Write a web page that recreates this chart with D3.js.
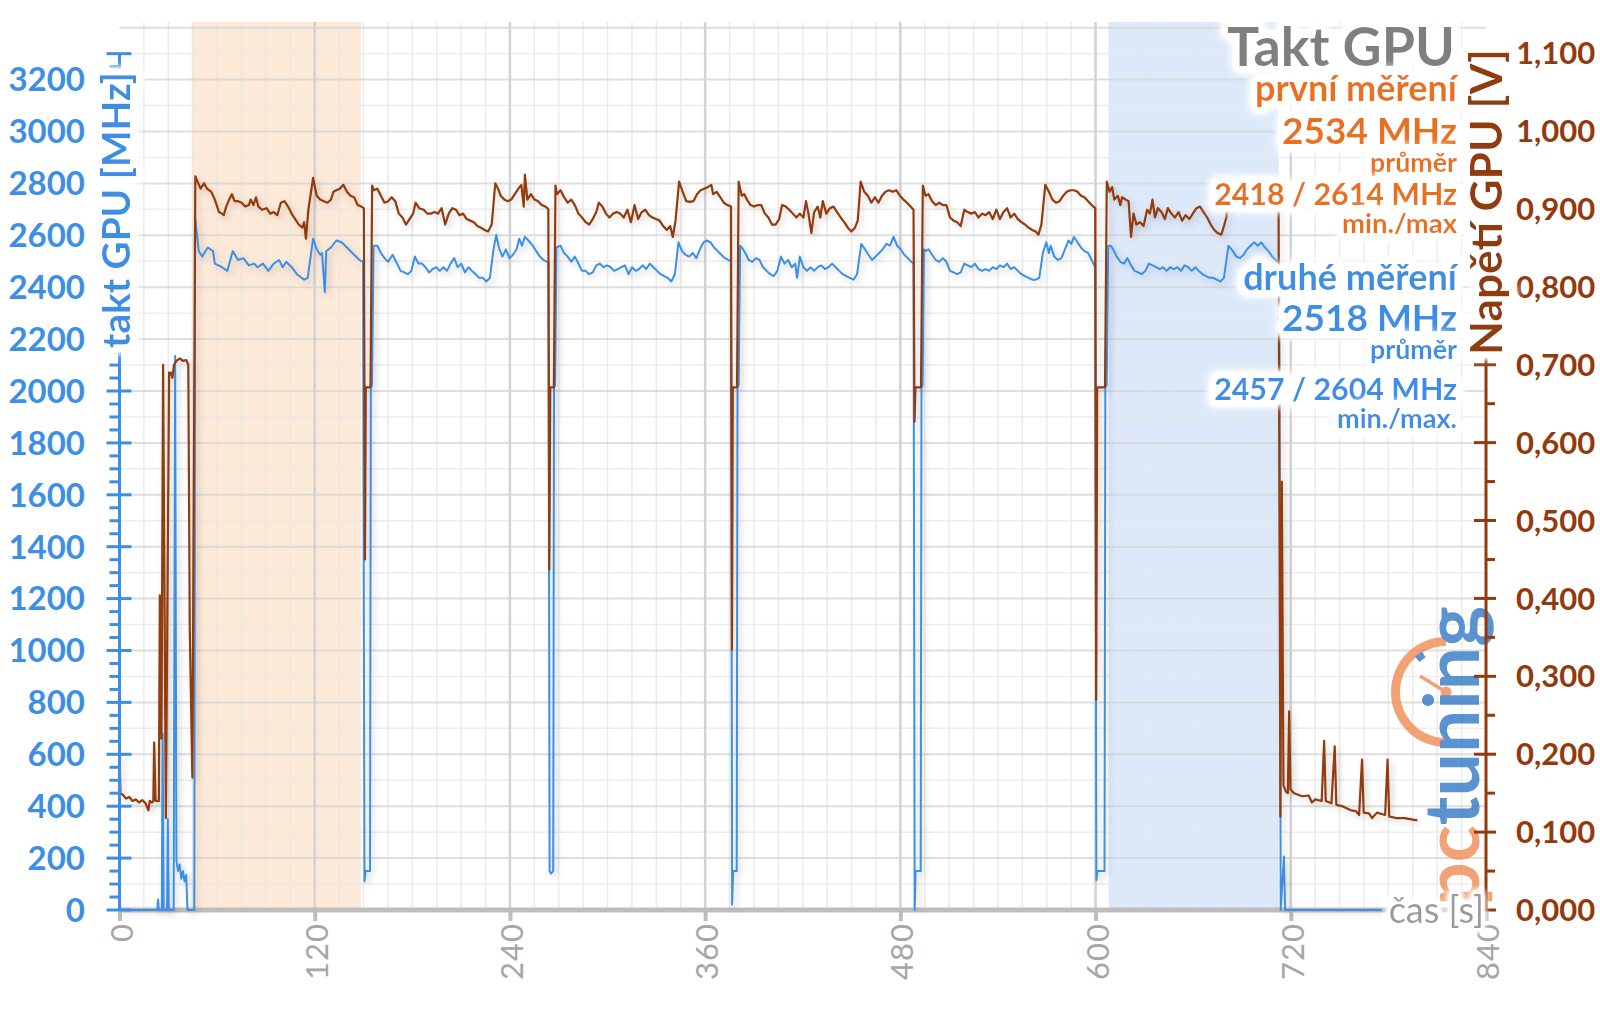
<!DOCTYPE html>
<html><head><meta charset="utf-8">
<script src="https://cdn.jsdelivr.net/npm/d3@7"></script>
<style>
body{margin:0;background:#fff;}
svg{display:block;}
text{font-family:Lato,"Open Sans",sans-serif;}
</style>
</head><body>
<svg id="c" width="1600" height="1009"></svg>
<script>
// ---------- DATA ----------
// GPU clock, second measurement (MHz) : [time s, MHz]
const gpuClock = [
[0,0],[23.2,0],[23.7,40],[24.2,0],[26,0],[26.5,680],[27.2,0],[29.2,0],[29.7,350],[30.3,0],[33.3,0],[34.2,2135],[35,190],[36,150],[37,175],[38,120],[39,150],[40,110],[41,135],[41.8,0],[46,0],[46.5,2670],
[48.7,2539],[50.9,2518],[54.2,2553],[57.5,2539],[58.6,2491],[60.8,2484],[63,2477],[66.3,2463],[69.6,2539],[72.9,2505],[76.2,2512],[79.5,2484],[82.7,2491],[84.9,2477],[88.2,2491],[91.5,2463],[94.8,2491],[98.1,2505],[100.3,2477],[102.5,2498],[105.8,2477],[109.1,2450],[113.5,2429],[115.7,2436],[119,2587],[121.2,2546],[123.4,2525],[124.5,2532],[126.2,2381],[127.1,2539],[130,2553],[133.3,2580],[136.5,2573],[139.8,2553],[144.2,2525],[147.5,2505],[149.7,2498],
[150.6,110],[151.3,150],[154,150],[154.5,2015],[155.2,2020],[156.2,2560],
[158.5,2560],[160.7,2532],[162.9,2512],[165.1,2498],[167.9,2525],[170.6,2491],[172.8,2463],[175,2457],[177.2,2450],[179.4,2463],[181.6,2518],[183.8,2491],[186,2491],[188.1,2477],[190.3,2457],[192.5,2470],[194.7,2477],[196.9,2463],[199.1,2477],[201.3,2463],[203.5,2491],[205.7,2512],[207.9,2477],[210.1,2491],[212.3,2457],[214.5,2477],[216.7,2463],[218.9,2450],[221.1,2436],[223.3,2436],[225.5,2422],[227.7,2436],[229.9,2546],[231.6,2601],[233.2,2553],[235.4,2518],[237.5,2546],[239.7,2512],[241.9,2525],[244.1,2546],[245.7,2587],[247.4,2560],[249.2,2594],[251.4,2580],[254,2560],[256.2,2539],[258.4,2518],[260.6,2505],[263.7,2495],
[264.4,150],[265.2,140],[266.6,150],[267.1,2015],[267.8,2020],[268.6,2553],
[271.1,2560],[273.3,2532],[275.5,2518],[277.7,2498],[279.9,2518],[282.1,2491],[284.3,2463],[286.5,2463],[288.7,2450],[290.9,2457],[293.1,2484],[295.3,2491],[297.5,2477],[299.7,2484],[301.9,2477],[304.1,2463],[306.3,2470],[308.5,2477],[310.7,2484],[312.9,2450],[315.1,2477],[317.3,2463],[319.4,2470],[321.6,2484],[323.8,2470],[326,2491],[328.2,2477],[330.4,2463],[332.6,2450],[334.8,2443],[337,2436],[339.2,2422],[341.4,2450],[343.6,2573],[345.8,2539],[348,2525],[350.2,2518],[352.4,2532],[354.6,2512],[356.8,2546],[359,2573],[361.2,2580],[363.3,2573],[365.5,2553],[367.7,2539],[369.9,2525],[372.1,2512],[374.3,2505],[375.9,2498],
[376.6,20],[377.2,150],[379.4,150],[379.9,2015],[380.6,2020],[381.5,2560],
[382.5,2553],[384.7,2532],[386.8,2505],[389,2498],[391.2,2512],[393.4,2505],[395.6,2477],[397.8,2463],[400,2450],[402.2,2443],[404.4,2463],[406.6,2518],[408.8,2491],[411,2505],[413.2,2477],[415.4,2491],[416.5,2436],[418.2,2518],[420.4,2477],[422.6,2463],[424.8,2477],[427,2463],[429.2,2477],[431.4,2484],[433.6,2470],[435.8,2477],[438,2491],[440.2,2477],[442.4,2463],[444.6,2450],[446.8,2443],[449,2436],[451.2,2429],[453.4,2450],[456,2567],[458.2,2546],[460.4,2525],[462.6,2505],[464.8,2518],[467,2532],[469.2,2546],[471.4,2567],[473.6,2560],[475.8,2594],[478,2560],[480.2,2546],[482.4,2525],[484.6,2512],[486.7,2498],[488.1,2491],
[488.8,0],[489.4,150],[492.5,150],[493,2015],[493.7,2020],[494.5,2546],
[495.5,2539],[497.3,2546],[499.5,2525],[501.7,2505],[503.9,2498],[506.1,2512],[508.3,2498],[510.5,2463],[512.7,2457],[514.9,2450],[517.1,2457],[519.3,2491],[521.4,2484],[523.6,2477],[525.8,2491],[528,2470],[530.2,2463],[532.4,2470],[534.6,2463],[536.8,2477],[539,2470],[541.2,2484],[543.4,2477],[545.6,2491],[547.8,2470],[550,2477],[552.2,2463],[554.4,2450],[556.6,2443],[558.8,2436],[561,2429],[563.2,2429],[565.4,2436],[567.6,2532],[569.7,2573],[571.3,2532],[572.4,2560],[574.6,2518],[576.8,2505],[579,2512],[581.2,2546],[583.4,2580],[585.1,2567],[586.7,2594],[588.9,2573],[591,2553],[593.2,2539],[595.4,2532],[597.6,2505],[599.8,2477],
[600.5,115],[601.2,150],[605.5,150],[606,2015],[606.8,2020],[607.8,2560],
[609.3,2560],[610.8,2546],[613,2518],[615.2,2498],[617.4,2491],[619.6,2512],[621.8,2484],[624,2463],[626.2,2457],[628.4,2450],[630.6,2463],[632.8,2491],[635,2484],[637.2,2477],[639.4,2470],[641.5,2477],[643.7,2463],[645.9,2477],[648.1,2470],[650.3,2477],[652.5,2463],[654.7,2484],[656.9,2477],[659.1,2463],[661.3,2477],[663.5,2463],[665.7,2450],[667.9,2443],[670.1,2436],[672.3,2436],[674.5,2429],[676.7,2422],[678.9,2436],[681.7,2560],[684.4,2539],[686.6,2518],[688.8,2512],[691,2525],[693.1,2546],[695.3,2560],[697.5,2573],[699.7,2560],[701.9,2573],[704.1,2553],[706.3,2539],[708.5,2518],[710.7,2505],[712.9,2491],
[713.8,0],[715.8,206],[716.5,0],[776,0]
];

// GPU voltage, first measurement (V) : [time s, V]
const gpuVoltage = [
[0,0.203],[0.6,0.15],[2,0.148],[4,0.143],[6,0.145],[8,0.14],[10,0.142],[12,0.138],[14,0.141],[16,0.137],[17.8,0.128],[18.6,0.14],[20,0.138],[20.8,0.14],[21.3,0.215],[22.2,0.14],[24.2,0.14],[24.8,0.404],[25.8,0.22],[26.8,0.70],[28.5,0.118],[30.5,0.69],[31.5,0.69],[32.5,0.683],[33.5,0.70],[35,0.705],[37,0.708],[39,0.705],[41,0.706],[42.3,0.70],[43.2,0.36],[44.8,0.17],[46.6,0.942],
[49.8,0.926],[52,0.933],[53.8,0.926],[56.4,0.922],[58.6,0.912],[61.2,0.896],[63,0.894],[64.1,0.892],[65.6,0.903],[67.4,0.912],[69.1,0.919],[70.7,0.91],[72.9,0.91],[75.1,0.908],[77.3,0.903],[79.5,0.905],[80.6,0.912],[82.3,0.905],[83.9,0.915],[85.4,0.903],[87.6,0.899],[90.4,0.901],[92.6,0.894],[94.8,0.896],[97,0.892],[99.2,0.908],[101.4,0.91],[103.6,0.903],[105.8,0.894],[108,0.887],[110.2,0.88],[112.4,0.876],[113.5,0.883],[114.6,0.862],[116.1,0.899],[119,0.94],[121.2,0.917],[123.4,0.912],[125.6,0.91],[127.8,0.908],[130,0.912],[131.5,0.922],[133.3,0.924],[135.4,0.926],[137.6,0.931],[139.8,0.922],[142,0.917],[144.2,0.915],[146.4,0.905],[148.6,0.903],[150.2,0.901],
[150.9,0.45],[151.4,0.671],[154.3,0.671],[155.3,0.93],
[156.3,0.924],[158.5,0.926],[160.7,0.917],[162.9,0.908],[165.1,0.91],[167.3,0.915],[169.5,0.91],[171.7,0.894],[173.9,0.889],[176.1,0.88],[178.3,0.887],[180.5,0.894],[182,0.908],[184.2,0.901],[187,0.899],[189.2,0.894],[191.4,0.894],[193.6,0.896],[195.8,0.894],[198,0.901],[200.2,0.88],[202.4,0.894],[204.6,0.901],[206.8,0.899],[209,0.892],[211.2,0.894],[213.4,0.887],[215.6,0.885],[217.8,0.883],[220,0.878],[222.2,0.876],[224.4,0.873],[226.6,0.871],[228.8,0.88],[231,0.933],[232.7,0.926],[234.3,0.917],[236.5,0.912],[238.6,0.91],[240.8,0.912],[243,0.919],[245.2,0.926],[247,0.931],[248.5,0.903],[249.2,0.944],[250.7,0.912],[252.9,0.919],[255.1,0.912],[257.3,0.91],[259.5,0.905],[261.7,0.903],[263.6,0.9],
[264.2,0.437],[264.8,0.671],[267,0.671],[268,0.93],
[268.9,0.919],[271.1,0.924],[273.3,0.915],[275.5,0.908],[277.7,0.912],[279.9,0.905],[282.1,0.894],[284.3,0.889],[286.5,0.883],[288.7,0.88],[290.9,0.887],[293.1,0.896],[294.6,0.908],[296.8,0.903],[299,0.894],[301.2,0.889],[303.4,0.894],[305.6,0.896],[307.8,0.894],[310,0.889],[312.2,0.899],[314.4,0.883],[316.6,0.905],[318.8,0.887],[321,0.896],[323.2,0.899],[325.4,0.892],[327.6,0.889],[329.8,0.887],[332,0.885],[334.2,0.878],[336.4,0.873],[338.5,0.878],[340.1,0.864],[341.8,0.885],[344,0.935],[346.2,0.922],[348.4,0.91],[350.6,0.909],[352.8,0.91],[355,0.919],[357.2,0.924],[359.4,0.926],[361.6,0.928],[363.8,0.931],[364.9,0.919],[367.1,0.922],[369.3,0.915],[371.5,0.908],[373.7,0.905],[375.9,0.903],
[376.5,0.334],[377,0.671],[379.6,0.671],[380.6,0.935],
[382.5,0.917],[384,0.919],[385.7,0.912],[387.9,0.905],[390.1,0.903],[392.3,0.905],[394.5,0.905],[396.7,0.894],[398.9,0.889],[401.1,0.88],[403.3,0.88],[405.5,0.887],[407.3,0.905],[409.5,0.903],[411.7,0.899],[413.9,0.894],[416.1,0.889],[418.2,0.894],[420.4,0.889],[422,0.91],[423.5,0.894],[425.3,0.869],[427,0.896],[429.2,0.903],[430.8,0.889],[432.3,0.91],[434.5,0.894],[436.7,0.901],[438.9,0.903],[441.1,0.896],[443.3,0.889],[445.5,0.883],[447.7,0.876],[449.9,0.871],[452.1,0.876],[453.8,0.885],[455.6,0.935],[457.8,0.922],[460,0.917],[462.2,0.908],[464.4,0.915],[466.5,0.908],[468.7,0.917],[470.9,0.922],[473.1,0.924],[475.3,0.922],[477.5,0.924],[479.7,0.917],[481.9,0.912],[484.1,0.908],[486.3,0.903],[488.1,0.899],
[488.7,0.627],[489.3,0.671],[492.7,0.671],[493.8,0.93],
[495.5,0.917],[497.3,0.919],[499.5,0.91],[501.7,0.905],[503.9,0.908],[506.1,0.905],[508.3,0.905],[510.5,0.889],[512.7,0.885],[514.9,0.883],[517.1,0.878],[519.3,0.899],[521.4,0.896],[523.6,0.894],[525.8,0.896],[528,0.889],[530.2,0.894],[532.4,0.892],[534.6,0.896],[536.8,0.887],[539,0.899],[541.2,0.887],[543.4,0.896],[545.6,0.901],[547.8,0.889],[550,0.894],[552.2,0.887],[554.4,0.883],[556.6,0.88],[558.8,0.876],[561,0.873],[563.2,0.871],[564.9,0.867],[566.7,0.88],[569.1,0.931],[571.3,0.922],[573.5,0.912],[575.7,0.908],[577.9,0.91],[580.1,0.917],[582.3,0.922],[584.5,0.924],[586.7,0.924],[588.9,0.922],[591,0.917],[593.2,0.915],[595.4,0.91],[597.6,0.905],[599.8,0.901],
[600.4,0.27],[601,0.671],[605.8,0.671],[606.9,0.935],
[608.6,0.922],[610.2,0.928],[611.5,0.912],[613.7,0.917],[615.2,0.905],[616.3,0.915],[618.5,0.912],[620.3,0.91],[621.8,0.864],[623.3,0.894],[625.1,0.88],[627.3,0.883],[629.5,0.878],[631.7,0.899],[633.4,0.894],[635,0.912],[636.5,0.889],[638.3,0.901],[640.5,0.896],[642.6,0.887],[644.4,0.901],[646.6,0.894],[648.8,0.889],[651,0.896],[653.2,0.885],[655.4,0.892],[657.6,0.887],[659.8,0.894],[662,0.901],[664.2,0.903],[666.4,0.896],[668.6,0.889],[670.8,0.88],[673,0.873],[675.1,0.869],[677.3,0.867],[678.9,0.878],[680.4,0.889],[682,0.935],[684,0.922],[688,0.91],[692,0.915],[696,0.924],[700,0.928],[704,0.922],[708,0.912],[712.5,0.903],
[713.6,0.12],[714.5,0.55],[715.5,0.16],[717,0.152],[718.2,0.15],[719,0.255],[719.8,0.155],[722,0.15],[727,0.146],[731,0.147],[733,0.138],[735,0.142],[739,0.14],[740.5,0.217],[741.5,0.14],[745,0.137],[747,0.21],[748,0.135],[752,0.133],[757,0.128],[760,0.127],[762,0.122],[763.8,0.193],[764.8,0.125],[768,0.124],[770,0.118],[773,0.125],[778,0.122],[779.5,0.193],[780.5,0.12],[785,0.118],[790,0.118],[795,0.116],[797.8,0.115]
];

const highlightFirst = [44.4, 148.3];   // s
const highlightSecond = [608, 712.5];   // s
const timeTicks = [0,120,240,360,480,600,720,840];
const clockTicks = d3.range(0, 3201, 200);
const voltTicks = d3.range(0, 11).map(i => i/10).concat([1.1]);
const titleText = "Takt GPU";
const legendFirst = ["první měření", "2534 MHz", "průměr", "2418 / 2614 MHz", "min./max"];
const legendSecond = ["druhé měření", "2518 MHz", "průměr", "2457 / 2604 MHz", "min./max."];

// ---------- STYLE ----------
const BLUE = "#3d8fe6", BROWN = "#923a0d", ORANGE = "#e9711d", GREY = "#7f7f7f";
const svg = d3.select("#c");
const x = d3.scaleLinear().domain([0, 840]).range([119.5, 1486]);
const yL = d3.scaleLinear().domain([0, 3422]).range([910, 22]);
const yR = d3.scaleLinear().domain([0, 1.14]).range([910, 22]);

const defs = svg.append("defs");
function makeGlow(id, dil, blur, slope) {
  const f = defs.append("filter").attr("id", id).attr("x", "-50%").attr("y", "-120%").attr("width", "200%").attr("height", "340%");
  f.append("feMorphology").attr("in", "SourceAlpha").attr("operator", "dilate").attr("radius", dil).attr("result", "d");
  f.append("feGaussianBlur").attr("in", "d").attr("stdDeviation", blur).attr("result", "b");
  f.append("feComponentTransfer").attr("in", "b").attr("result", "b2")
    .append("feFuncA").attr("type", "linear").attr("slope", slope);
  f.append("feFlood").attr("flood-color", "#fff").attr("result", "f");
  f.append("feComposite").attr("in", "f").attr("in2", "b2").attr("operator", "in").attr("result", "w");
  const m = f.append("feMerge");
  m.append("feMergeNode").attr("in", "w");
  m.append("feMergeNode").attr("in", "SourceGraphic");
}
makeGlow("glow", 5, 5, 2.3);
makeGlow("glowS", 3, 3, 2.0);

const sh = defs.append("filter").attr("id","shadow").attr("filterUnits","userSpaceOnUse")
  .attr("x",0).attr("y",0).attr("width",1600).attr("height",1009);
sh.append("feDropShadow").attr("dx",3).attr("dy",3).attr("stdDeviation",3).attr("flood-color","#000").attr("flood-opacity",0.18);

// shaded regions
svg.append("rect").attr("x", x(highlightFirst[0])).attr("width", x(highlightFirst[1]) - x(highlightFirst[0]))
  .attr("y", 22).attr("height", 888).attr("fill", "#fde9d8");
svg.append("rect").attr("x", x(highlightSecond[0])).attr("width", x(highlightSecond[1]) - x(highlightSecond[0]))
  .attr("y", 22).attr("height", 888).attr("fill", "#dce9fb");

// grid
const grid = svg.append("g");
d3.range(0, 841, 15).filter(t => t % 120 !== 0).forEach(t => {
  grid.append("line").attr("x1", x(t)).attr("x2", x(t)).attr("y1", 22).attr("y2", 910)
    .attr("stroke", "#e6e6e6").attr("stroke-opacity", 0.8).attr("stroke-width", 1.5);
});
d3.range(100, 3401, 200).forEach(v => {
  grid.append("line").attr("x1", x(0)).attr("x2", x(840)).attr("y1", yL(v)).attr("y2", yL(v))
    .attr("stroke", "#e8e8e8").attr("stroke-opacity", 0.8).attr("stroke-width", 1.5);
});
d3.range(200, 3401, 200).forEach(v => {
  grid.append("line").attr("x1", x(0)).attr("x2", x(840)).attr("y1", yL(v)).attr("y2", yL(v))
    .attr("stroke", "#d6d6d6").attr("stroke-opacity", 0.8).attr("stroke-width", 2);
});
timeTicks.slice(1, -1).forEach(t => {
  grid.append("line").attr("x1", x(t)).attr("x2", x(t)).attr("y1", 22).attr("y2", 910)
    .attr("stroke", "#d2d2d2").attr("stroke-width", 2.5);
});

// logo watermark
const logo = svg.append("g").attr("opacity", 0.85);
const cx = 1446, cy = 692;
logo.append("path").attr("transform", `translate(${cx},${cy})`)
  .attr("d", d3.arc().innerRadius(46).outerRadius(55).startAngle(Math.PI).endAngle(2 * Math.PI)())
  .attr("fill", "#f0925c");
logo.append("path").attr("transform", `translate(${cx},${cy})`)
  .attr("d", d3.arc().innerRadius(40).outerRadius(47).startAngle(1.77 * Math.PI).endAngle(1.83 * Math.PI)())
  .attr("fill", "#3f7fc8");
logo.append("line").attr("x1", cx).attr("y1", cy).attr("x2", cx - 26).attr("y2", cy - 16)
  .attr("stroke", "#f0925c").attr("stroke-width", 3.5);
logo.append("circle").attr("cx", cx).attr("cy", cy).attr("r", 5.5).attr("fill", "#f0925c");
const lt = logo.append("text").attr("transform", "translate(1479,906) rotate(-90)")
  .attr("font-family", "'DejaVu Sans'").attr("font-weight", "bold").attr("font-size", 62);
lt.append("tspan").attr("fill", "#f0925c").text("pc");
lt.append("tspan").attr("fill", "#3f7fc8").text("tuning");
{ const w = lt.node().getComputedTextLength(); lt.attr("font-size", 62 * 300 / w); }

// x axis
svg.append("line").attr("x1", x(0)).attr("x2", x(840)).attr("y1", 910).attr("y2", 910)
  .attr("stroke", "#bdbdbd").attr("stroke-width", 5);
const xAxis = svg.append("g").attr("transform", "translate(0,910)")
  .call(d3.axisBottom(x).tickValues(timeTicks).tickSize(11).tickFormat(""));
xAxis.select(".domain").remove();
xAxis.selectAll(".tick line").attr("stroke", "#bdbdbd").attr("stroke-width", 4);
timeTicks.forEach(t => {
  svg.append("text").attr("transform", `translate(${x(t) + 1},923) rotate(-90)`)
    .attr("text-anchor", "end").attr("dominant-baseline", "central")
    .attr("font-family", "'Open Sans'").attr("font-size", 31).attr("letter-spacing", 1)
    .attr("fill", "#a6a6a6").text(t);
});

// series lines
const lineL = d3.line().x(d => x(d[0])).y(d => yL(d[1]));
const lineR = d3.line().x(d => x(d[0])).y(d => yR(d[1]));
const series = svg.append("g").attr("filter", "url(#shadow)");
series.append("path").attr("d", lineL(gpuClock)).attr("fill", "none")
  .attr("stroke", BLUE).attr("stroke-width", 2).attr("stroke-linejoin", "round");
series.append("path").attr("d", lineR(gpuVoltage)).attr("fill", "none")
  .attr("stroke", BROWN).attr("stroke-width", 2.2).attr("stroke-linejoin", "round");

// left axis
const leftAxis = svg.append("g").attr("transform", `translate(${x(0)},0)`);
leftAxis.append("line").attr("y1", yL(3300)).attr("y2", 910).attr("stroke", BLUE).attr("stroke-width", 3);
d3.range(0, 3301, 50).forEach(v => {
  const major = v % 200 === 0 || v === 3300;
  leftAxis.append("line").attr("x1", major ? -13 : -10).attr("x2", major ? 12 : 0)
    .attr("y1", yL(v)).attr("y2", yL(v)).attr("stroke", BLUE).attr("stroke-width", 3);
});
clockTicks.forEach(v => {
  svg.append("text").attr("x", 85).attr("y", yL(v)).attr("dy", "0.36em")
    .attr("text-anchor", "end").attr("font-weight", "bold").attr("font-size", 33)
    .attr("fill", BLUE).text(v);
});

// right axis
const rightAxis = svg.append("g").attr("transform", `translate(${x(840)},0)`);
rightAxis.append("line").attr("y1", yR(1.1)).attr("y2", 910).attr("stroke", BROWN).attr("stroke-width", 3);
d3.range(0, 23).forEach(i => {
  const v = i * 0.05, major = i % 2 === 0;
  rightAxis.append("line").attr("x1", major ? -12 : 0).attr("x2", major ? 10 : 9)
    .attr("y1", yR(v)).attr("y2", yR(v)).attr("stroke", BROWN).attr("stroke-width", 3);
});
const fmtV = v => d3.format(".3f")(v).replace(".", ",");
voltTicks.forEach(v => {
  svg.append("text").attr("x", 1516).attr("y", yR(v)).attr("dy", "0.36em")
    .attr("text-anchor", "start").attr("font-weight", "bold").attr("font-size", 31)
    .attr("fill", BROWN).text(fmtV(v));
});

// axis titles
function fitText(sel, target) {
  const w = sel.node().getComputedTextLength();
  const fs = parseFloat(sel.attr("font-size"));
  sel.attr("font-size", fs * target / w);
}
const lTitle = svg.append("text").attr("transform", "translate(130,210) rotate(-90)")
  .attr("text-anchor", "middle").attr("font-weight", "bold").attr("font-size", 40)
  .attr("fill", BLUE).attr("filter", "url(#glow)").text("takt GPU [MHz]");
fitText(lTitle, 276);
const rTitle = svg.append("text").attr("transform", "translate(1502,202) rotate(-90)")
  .attr("text-anchor", "middle").attr("font-weight", "bold").attr("font-size", 40)
  .attr("fill", BROWN).attr("filter", "url(#glow)").text("Napětí GPU [V]");
fitText(rTitle, 306);

// x-axis title
svg.append("text").attr("x", 1484).attr("y", 910).attr("dy", "0.35em").attr("text-anchor", "end")
  .attr("font-family", "'Open Sans'").attr("font-size", 36).attr("fill", "#9a9a9a")
  .attr("filter", "url(#glowS)").text("čas [s]");

// title + legend
const title = svg.append("text").attr("x", 1455).attr("y", 66).attr("text-anchor", "end")
  .attr("font-weight", "bold").attr("font-size", 56).attr("fill", GREY)
  .attr("filter", "url(#glow)").text(titleText);
fitText(title, 228);

const legendLayout = [
  {y: 101, size: 31, w: 202}, {y: 144, size: 40, w: 175}, {y: 172, size: 22, w: 87},
  {y: 205, size: 31, w: 243}, {y: 233, size: 22, w: 115}
];
const legendLayout2 = [
  {y: 290, size: 31, w: 214}, {y: 331, size: 40, w: 175}, {y: 359, size: 22, w: 87},
  {y: 400, size: 31, w: 243}, {y: 428, size: 22, w: 120}
];
function legend(texts, layout, color) {
  texts.forEach((t, i) => {
    const s = svg.append("text").attr("x", 1457).attr("y", layout[i].y).attr("text-anchor", "end")
      .attr("font-weight", "bold").attr("font-size", layout[i].size).attr("fill", color)
      .attr("filter", "url(#glow)").text(t);
    fitText(s, layout[i].w);
  });
}
legend(legendFirst, legendLayout, ORANGE);
legend(legendSecond, legendLayout2, BLUE);
</script>
</body></html>
